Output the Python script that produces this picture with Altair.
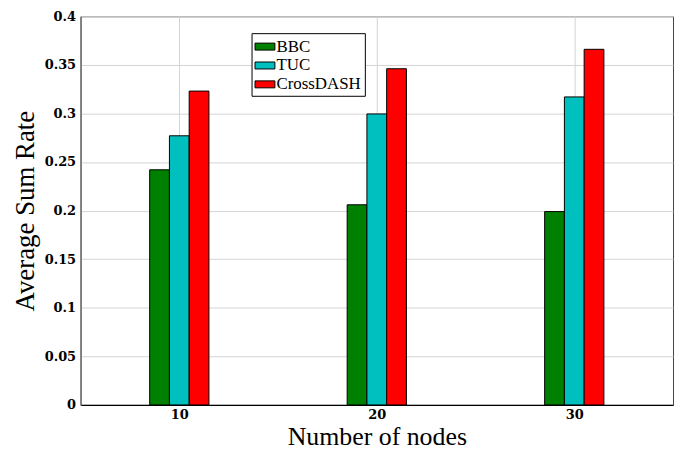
import altair as alt
import pandas as pd

nodes = [10, 20, 30]
series = ["BBC", "TUC", "CrossDASH"]
bbc = [0.242, 0.206, 0.199]
tuc = [0.277, 0.2995, 0.317]
crossdash = [0.323, 0.346, 0.366]
colors = ["#008000", "#00BFBF", "#FF0000"]

rows = []
for si, (name, vals) in enumerate(zip(series, [bbc, tuc, crossdash])):
    for n, v in zip(nodes, vals):
        rows.append({"nodes": n, "series": name, "idx": si, "rate": v})
df = pd.DataFrame(rows)

serif = "Liberation Serif"
tickfont = "DejaVu Serif"

chart = (
    alt.Chart(df)
    .transform_calculate(x0="datum.nodes - 1.5 + datum.idx", x1="datum.nodes - 0.5 + datum.idx")
    .mark_bar(stroke="black", strokeWidth=1)
    .encode(
        x=alt.X(
            "x0:Q",
            scale=alt.Scale(domain=[5, 35], nice=False, zero=False),
            axis=alt.Axis(
                values=nodes, format="d", title="Number of nodes",
                grid=True, gridColor="#d4d4d4", gridWidth=1,
                ticks=False, domainColor="black", domainWidth=1.2,
                labelFont=tickfont, labelFontWeight="bold", labelFontSize=13, labelColor="black",
                labelPadding=4,
                titleFont=serif, titleFontSize=26, titleFontWeight="normal", titleColor="black",
                titlePadding=2,
            ),
        ),
        x2="x1:Q",
        y=alt.Y(
            "rate:Q",
            scale=alt.Scale(domain=[0, 0.4], nice=False),
            axis=alt.Axis(
                values=[0, 0.05, 0.1, 0.15, 0.2, 0.25, 0.3, 0.35, 0.4], format=".2~f",
                title="Average Sum Rate",
                grid=True, gridColor="#d4d4d4", gridWidth=1,
                ticks=False, domainColor="#777777", domainWidth=1.5,
                labelFont=tickfont, labelFontWeight="bold", labelFontSize=13, labelColor="black",
                labelPadding=5,
                titleFont=serif, titleFontSize=27, titleFontWeight="normal", titleColor="black",
                titlePadding=5,
            ),
        ),
        y2=alt.datum(0),
        color=alt.Color(
            "series:N",
            scale=alt.Scale(domain=series, range=colors),
            sort=series,
            legend=alt.Legend(
                title=None, orient="none", legendX=172, legendY=17,
                symbolType="M-1,-0.35L1,-0.35L1,0.35L-1,0.35Z",
                symbolSize=400, symbolStrokeColor="black", symbolStrokeWidth=1,
                labelFont=serif, labelFontSize=17, labelColor="black", labelOffset=1,
                rowPadding=0, padding=3, strokeColor="black", fillColor="white",
            ),
        ),
    )
    .properties(width=596, height=391, padding={"left": 73, "top": 7, "right": 2, "bottom": 44}, autosize="none")
    .configure_view(stroke="#444444", strokeWidth=1)
)

chart.save("out.html", embed_options={"renderer": "svg", "actions": False})
